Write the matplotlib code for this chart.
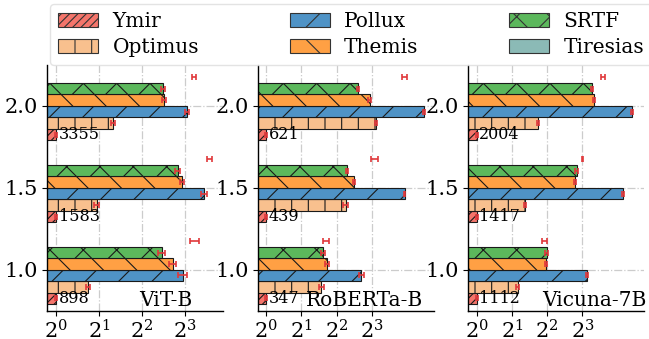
import numpy as np
import matplotlib
matplotlib.use("Agg")
import matplotlib.pyplot as plt
from matplotlib.patches import Patch

plt.rcParams['font.family'] = ['DejaVu Serif']
plt.rcParams['mathtext.fontset'] = 'dejavuserif'
plt.rcParams['hatch.linewidth'] = 0.8

# data: normalised runtime (Ymir = 1)
levels = [1.0, 1.5, 2.0]
models = ["ViT-B", "RoBERTa-B", "Vicuna-7B"]
methods = ["Ymir", "Optimus", "Pollux", "Themis", "SRTF", "Tiresias"]

ymir_abs = {
    "ViT-B": [898, 1583, 3355],
    "RoBERTa-B": [347, 439, 621],
    "Vicuna-7B": [1112, 1417, 2004],
}

vit_vals = {
    "Ymir": [1.0, 1.0, 1.0],
    "Optimus": [1.68, 1.92, 2.49],
    "Pollux": [7.67, 10.8, 8.27],
    "Themis": [6.53, 7.58, 5.68],
    "SRTF": [5.47, 7.07, 5.57],
    "Tiresias": [9.33, 11.8, 9.25],
}
vit_err = {
    "Ymir": [0.02, 0.02, 0.02],
    "Optimus": [0.05, 0.08, 0.08],
    "Pollux": [0.56, 0.49, 0.27],
    "Themis": [0.35, 0.24, 0.18],
    "SRTF": [0.29, 0.23, 0.18],
    "Tiresias": [0.63, 0.44, 0.34],
}

roberta_vals = {
    "Ymir": [1.0, 1.0, 1.0],
    "Optimus": [2.96, 4.75, 8.63],
    "Pollux": [6.44, 15.0, 22.1],
    "Themis": [3.30, 5.58, 7.57],
    "SRTF": [3.05, 4.87, 6.03],
    "Tiresias": [3.22, 8.36, 15.0],
}
roberta_err = {
    "Ymir": [0.02, 0.02, 0.02],
    "Optimus": [0.16, 0.21, 0.17],
    "Pollux": [0.31, 0.29, 0.43],
    "Themis": [0.10, 0.11, 0.22],
    "SRTF": [0.09, 0.12, 0.12],
    "Tiresias": [0.18, 0.54, 0.79],
}

vicuna_vals = {
    "Ymir": [1.0, 1.0, 1.0],
    "Optimus": [2.25, 2.61, 3.33],
    "Pollux": [8.7, 17.6, 21.2],
    "Themis": [3.91, 6.9, 10.0],
    "SRTF": [3.95, 7.17, 9.57],
    "Tiresias": [3.78, 8.0, 11.9],
}
vicuna_err = {
    "Ymir": [0.02, 0.02, 0.02],
    "Optimus": [0.07, 0.05, 0.06],
    "Pollux": [0.17, 0.34, 0.4],
    "Themis": [0.08, 0.13, 0.25],
    "SRTF": [0.08, 0.21, 0.18],
    "Tiresias": [0.2, 0.05, 0.46],
}

panel_vals = [vit_vals, roberta_vals, vicuna_vals]
panel_err = [vit_err, roberta_err, vicuna_err]

colors = {
    "Ymir": "#f4756b",
    "Optimus": "#f8c08e",
    "Pollux": "#4f93c6",
    "Themis": "#ffa044",
    "SRTF": "#5cb85c",
    "Tiresias": "#8bbab6",
}
hatches = {
    "Ymir": "////",
    "Optimus": "|",
    "Pollux": "/",
    "Themis": "\\",
    "SRTF": "x",
    "Tiresias": "",
}

W, H = 649, 339
fig = plt.figure(figsize=(W / 100, H / 100), dpi=100)

lefts = [46.7, 257.7, 468.3]
ax_w = 176
ax_bottom = 28.3
ax_top = 65
xlims = [(2 ** -0.216, 2 ** 3.87), (2 ** -0.233, 2 ** 4.73), (2 ** -0.233, 2 ** 4.75)]
label_x = [0.827, 0.941, 1.014]

bar_h = 0.07
y = np.array(levels)

for p, model in enumerate(models):
    ax = fig.add_axes([lefts[p] / W, ax_bottom / H, ax_w / W, (H - ax_top - ax_bottom) / H])
    ax.set_xscale('log', base=2)
    vals = panel_vals[p]
    errs = panel_err[p]
    for i, m in enumerate(methods):
        off = (i - 2.5) * bar_h
        visible = m != "Tiresias"
        ax.barh(y + off, np.array(vals[m]) - 0.5, left=0.5, height=bar_h,
                color=colors[m] if visible else 'none',
                edgecolor='#1a1a1a' if visible else 'none', linewidth=0.8,
                hatch=hatches[m], zorder=2)
        ax.errorbar(vals[m], y + off, xerr=errs[m], fmt='none',
                    ecolor='#e0383b', elinewidth=1.2, capsize=2.2, capthick=1.2, zorder=3)
    for k, lv in enumerate(levels):
        ax.text(1.05, lv - 2.5 * bar_h, str(ymir_abs[model][k]), fontsize=11.5,
                ha='left', va='center', zorder=4)
    ax.text(label_x[p], 0.02, model, transform=ax.transAxes, fontsize=14.5,
            ha='right', va='baseline', clip_on=False)

    ax.set_xlim(*xlims[p])
    ax.set_ylim(0.75, 2.25)
    ax.set_xticks([1, 2, 4, 8])
    ax.set_xticklabels([r'$2^{0}$', r'$2^{1}$', r'$2^{2}$', r'$2^{3}$'])
    ax.xaxis.set_minor_locator(matplotlib.ticker.NullLocator())
    ax.set_yticks(levels)
    ax.set_yticklabels(["1.0", "1.5", "2.0"])
    ax.tick_params(labelsize=15, length=3.5, width=0.8, pad=3)
    ax.grid(True, linestyle='-.', color='#cccccc', linewidth=0.9, zorder=0)
    ax.set_axisbelow(True)
    for s in ['top', 'right']:
        ax.spines[s].set_visible(False)
    for s in ['left', 'bottom']:
        ax.spines[s].set_linewidth(1.0)

handles = [Patch(facecolor=colors[m], edgecolor='#333333', hatch=hatches[m], linewidth=0.8)
           for m in methods]
fig.legend(handles, methods, loc='upper left', bbox_to_anchor=(50 / W, 1 - 4 / H),
           ncol=3, fontsize=14.5, handlelength=2.0, handletextpad=0.7,
           columnspacing=4.5, labelspacing=0.35, frameon=True, edgecolor='#dddddd',
           borderaxespad=0)

fig.savefig("out.png", dpi=100)
